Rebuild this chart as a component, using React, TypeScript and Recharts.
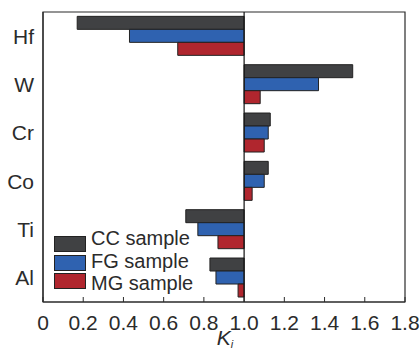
import React from "react";
import {
  BarChart,
  Bar,
  XAxis,
  YAxis,
  ReferenceLine,
  ReferenceArea,
} from "recharts";

if (typeof document !== "undefined") document.body.style.margin = "0";

const elements = ["Hf", "W", "Cr", "Co", "Ti", "Al"];
const ccValues = [0.17, 1.54, 1.13, 1.12, 0.71, 0.83];
const fgValues = [0.43, 1.37, 1.12, 1.1, 0.77, 0.86];
const mgValues = [0.67, 1.08, 1.1, 1.04, 0.87, 0.97];
const xTicks = [0, 0.2, 0.4, 0.6, 0.8, 1.0, 1.2, 1.4, 1.6, 1.8];

const series = [
  { key: "cc", label: "CC sample", color: "#404143" },
  { key: "fg", label: "FG sample", color: "#2f62b0" },
  { key: "mg", label: "MG sample", color: "#b0262e" },
];

// bars grow from Ki = 1
const span = (v: number) => [Math.min(1, v), Math.max(1, v)];

const data = elements.map((name, i) => ({
  name,
  cc: span(ccValues[i]),
  fg: span(fgValues[i]),
  mg: span(mgValues[i]),
}));

const FONT = "'Liberation Sans', Arial, sans-serif";
const INK = "#2b2b2b";

export default function App() {
  return (
    <div style={{ position: "relative", width: 420, height: 354, fontFamily: FONT }}>
      <BarChart
        width={420}
        height={354}
        data={data}
        layout="vertical"
        margin={{ top: 12, right: 15, bottom: 0, left: 0 }}
        barCategoryGap="9%"
        barGap={0}
      >
        <XAxis
          type="number"
          domain={[0, 1.8]}
          ticks={xTicks}
          tickFormatter={(v) => (v === 0 ? "0" : v.toFixed(1))}
          height={52}
          tickSize={-5}
          tickMargin={18}
          axisLine={{ stroke: INK, strokeWidth: 1.2 }}
          tickLine={{ stroke: INK, strokeWidth: 1 }}
          tick={{ fontSize: 21, fill: INK, fontFamily: FONT }}
          interval={0}
        />
        <YAxis
          type="category"
          dataKey="name"
          width={43}
          tickLine={false}
          tickMargin={3}
          axisLine={{ stroke: INK, strokeWidth: 1.2 }}
          tick={{ fontSize: 21, fill: INK, fontFamily: FONT }}
        />
        <ReferenceArea x1={0} x2={1.8} fill="none" stroke={INK} strokeWidth={1.2} fillOpacity={0} />
        {series.map((s) => (
          <Bar
            key={s.key}
            dataKey={s.key}
            fill={s.color}
            stroke="#222"
            strokeWidth={1}
            isAnimationActive={false}
          />
        ))}
        <ReferenceLine x={1} stroke="#111" strokeWidth={1.2} />
      </BarChart>

      {/* legend */}
      <div style={{ position: "absolute", left: 54, top: 236 }}>
        {series.map((s, i) => (
          <div
            key={s.key}
            style={{
              position: "absolute",
              left: 0,
              top: i * 18.5,
              width: 30,
              height: 14,
              background: s.color,
              border: "1px solid #222",
            }}
          />
        ))}
      </div>
      <div style={{ position: "absolute", left: 91, top: 227 }}>
        {series.map((s, i) => (
          <div
            key={s.key}
            style={{
              position: "absolute",
              left: 0,
              top: i * 22.5,
              fontSize: 20,
              lineHeight: "22px",
              color: INK,
              whiteSpace: "nowrap",
            }}
          >
            {s.label}
          </div>
        ))}
      </div>

      {/* x-axis title */}
      <div
        style={{
          position: "absolute",
          left: 0,
          width: 450,
          top: 327,
          textAlign: "center",
          fontSize: 21,
          lineHeight: "22px",
          color: INK,
          fontStyle: "italic",
        }}
      >
        K<sub style={{ fontSize: 11, verticalAlign: "-3px" }}>i</sub>
      </div>
    </div>
  );
}
